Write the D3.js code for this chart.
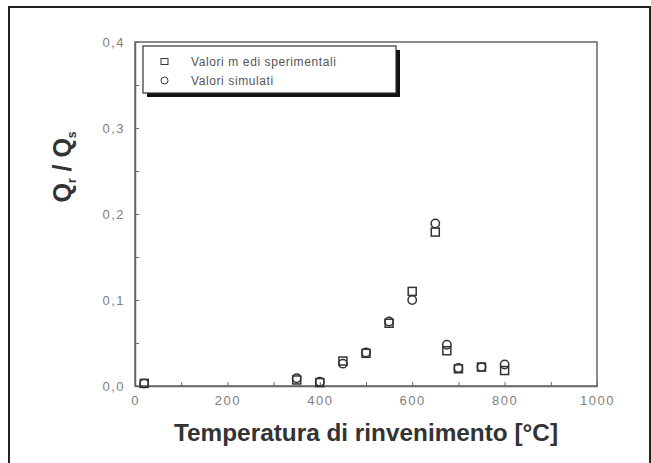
<!DOCTYPE html>
<html>
<head>
<meta charset="utf-8">
<script src="https://cdn.jsdelivr.net/npm/d3@7"></script>
<style>
  body { margin: 0; background: #fff; }
  svg { display: block; font-family: "Liberation Sans", Arial, sans-serif; }
  .tick text { fill: #808080; font-size: 13px; letter-spacing: 1.5px; }
  .tick line, .domain { stroke: #666; }
</style>
</head>
<body>
<svg id="chart" width="651" height="463"></svg>
<script>
// temperatures [°C]
var temps = [20, 350, 400, 450, 500, 550, 600, 650, 675, 700, 750, 800];
// Valori medi sperimentali
var expValues = [0.003, 0.007, 0.004, 0.029, 0.038, 0.073, 0.110, 0.179, 0.041, 0.020, 0.022, 0.018];
// Valori simulati
var simValues = [0.003, 0.009, 0.005, 0.026, 0.039, 0.075, 0.100, 0.189, 0.048, 0.021, 0.022, 0.025];

var xTicks = [0, 200, 400, 600, 800, 1000];
var yTicks = [0, 0.1, 0.2, 0.3, 0.4];
var legendLabels = ['Valori m edi sperimentali', 'Valori simulati'];

var svg = d3.select('#chart');
var markColor = '#333';

// outer frame, bottom edge runs off the picture
svg.append('rect')
  .attr('x', 9).attr('y', 7)
  .attr('width', 641).attr('height', 470)
  .attr('fill', 'none').attr('stroke', '#222').attr('stroke-width', 2);

var x = d3.scaleLinear().domain([0, 1000]).range([135, 597]);
var y = d3.scaleLinear().domain([0, 0.4]).range([386, 42]);

// plot frame
svg.append('rect')
  .attr('x', x(0)).attr('y', y(0.4))
  .attr('width', x(1000) - x(0)).attr('height', y(0) - y(0.4))
  .attr('fill', 'none').attr('stroke', '#666').attr('stroke-width', 1.5);

var fmt = function(d) { return d3.format('.1f')(d).replace('.', ','); };

svg.append('g')
  .attr('transform', `translate(0,${y(0)})`)
  .call(d3.axisBottom(x).tickValues(d3.range(0, 1001, 100)).tickSizeInner(-4).tickSizeOuter(0).tickPadding(10)
    .tickFormat(function(d) { return xTicks.indexOf(d) !== -1 ? d : ''; }))
  .call(function(g) { g.select('.domain').attr('stroke-width', 1.5); });

svg.append('g')
  .attr('transform', `translate(${x(0)},0)`)
  .call(d3.axisLeft(y).tickValues(d3.range(0, 0.41, 0.05)).tickSizeInner(-4).tickSizeOuter(0).tickPadding(10)
    .tickFormat(function(d) {
      var hit = yTicks.some(function(t) { return Math.abs(t - d) < 1e-6; });
      return hit ? fmt(d) : '';
    }))
  .call(function(g) { g.select('.domain').attr('stroke-width', 1.5); });

// markers
var pts = temps.map(function(t, i) { return { t: t, e: expValues[i], s: simValues[i] }; });

svg.append('g').selectAll('rect')
  .data(pts).enter().append('rect')
  .attr('x', function(d) { return x(d.t) - 4; })
  .attr('y', function(d) { return y(d.e) - 4; })
  .attr('width', 8).attr('height', 8)
  .attr('fill', 'none').attr('stroke', markColor).attr('stroke-width', 1.5);

svg.append('g').selectAll('circle')
  .data(pts).enter().append('circle')
  .attr('cx', function(d) { return x(d.t); })
  .attr('cy', function(d) { return y(d.s); })
  .attr('r', 4.2)
  .attr('fill', 'none').attr('stroke', markColor).attr('stroke-width', 1.5);

// legend with drop shadow
var lg = svg.append('g');
lg.append('rect').attr('x', 147).attr('y', 50).attr('width', 253).attr('height', 47).attr('fill', '#111');
lg.append('rect').attr('x', 143).attr('y', 46).attr('width', 253).attr('height', 47)
  .attr('fill', '#fff').attr('stroke', '#333').attr('stroke-width', 1.2);
lg.append('rect').attr('x', 161).attr('y', 58.5).attr('width', 7).attr('height', 6)
  .attr('fill', 'none').attr('stroke', markColor);
lg.append('circle').attr('cx', 164.5).attr('cy', 80.5).attr('r', 3.5)
  .attr('fill', 'none').attr('stroke', markColor);
lg.selectAll('text.lbl').data(legendLabels).enter().append('text')
  .attr('class', 'lbl')
  .attr('x', 191)
  .attr('y', function(d, i) { return 66 + i * 19; })
  .attr('font-size', 12).attr('fill', '#555').attr('letter-spacing', 0.6)
  .text(function(d) { return d; });

// axis titles
svg.append('text')
  .attr('x', 366).attr('y', 441)
  .attr('text-anchor', 'middle')
  .attr('font-size', 24).attr('font-weight', 'bold').attr('fill', '#333')
  .attr('textLength', 384).attr('lengthAdjust', 'spacingAndGlyphs')
  .text('Temperatura di rinvenimento [°C]');

var yt = svg.append('text')
  .attr('transform', 'translate(71,167) rotate(-90)')
  .attr('text-anchor', 'middle')
  .attr('font-size', 25).attr('font-weight', 'bold').attr('fill', '#333');
yt.append('tspan').text('Q');
yt.append('tspan').attr('font-size', 12).attr('dy', 5).text('r');
yt.append('tspan').attr('dy', -5).text(' / Q');
yt.append('tspan').attr('font-size', 12).attr('dy', 5).text('s');
</script>
</body>
</html>
